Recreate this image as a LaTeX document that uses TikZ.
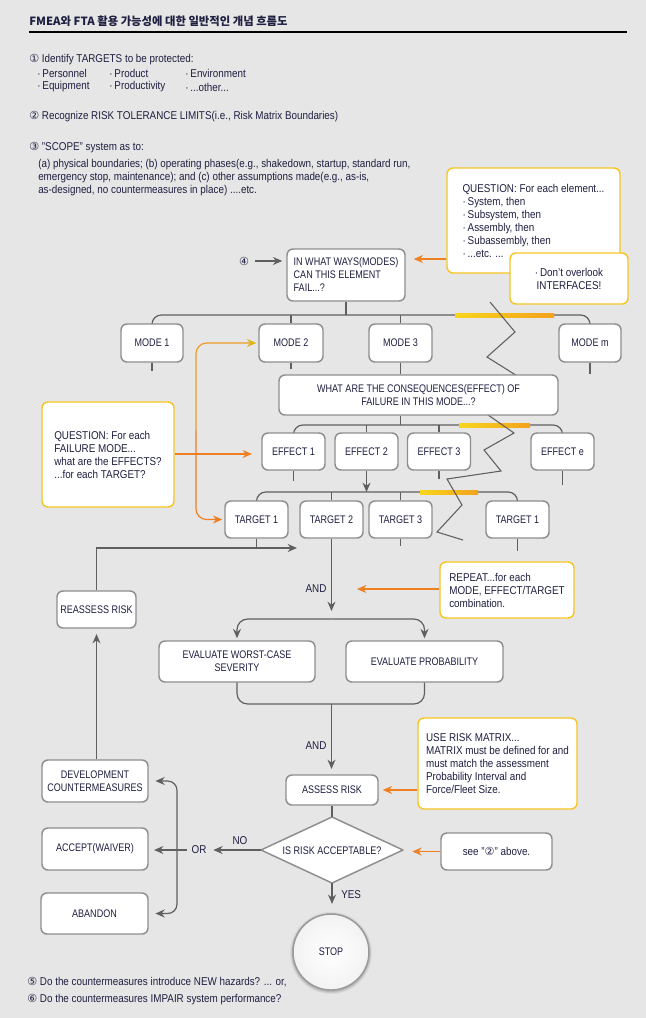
\documentclass[tikz,border=0pt]{standalone}
\usepackage{fontspec}
\setmainfont{Liberation Sans}[FakeStretch=0.87]
\newfontfamily\capsfont{Liberation Sans}[FakeStretch=0.82]
\newfontfamily\krfont{Noto Sans CJK KR}
\newfontfamily\symfont{DejaVu Sans}
\usetikzlibrary{arrows.meta,calc}
\definecolor{bgc}{HTML}{E6E6E6}
\definecolor{txt}{HTML}{1E1E40}
\definecolor{lnc}{HTML}{5F5F5F}
\definecolor{bdc}{HTML}{8E8E8E}
\definecolor{yel}{HTML}{F6C623}
\definecolor{org}{HTML}{F07F22}
\definecolor{orgy}{HTML}{EE9A2A}
\definecolor{hly}{HTML}{F8D51C}
\definecolor{hlo}{HTML}{F3A21D}
\definecolor{gold}{HTML}{DDB417}
\newcommand\cn[1]{{\symfont\fontsize{8.3}{9}\selectfont #1}}
\pgfdeclarelayer{back}
\pgfsetlayers{back,main}
\begin{document}
\begin{tikzpicture}[x=0.75pt,y=-0.75pt,
  font=\fontsize{8.5}{9.75}\selectfont, text=txt,
  sz/.style 2 args={minimum width=#1*0.75pt, minimum height=#2*0.75pt},
  box/.style={draw=bdc, line width=1.1pt, fill=white, rounded corners=4.5pt, inner sep=0pt, align=center, font=\capsfont\fontsize{8.25}{9.75}\selectfont},
  call/.style={draw=yel, line width=1.1pt, fill=white, rounded corners=4.5pt, inner sep=0pt, align=left},
  conn/.style={draw=lnc, line width=0.9pt},
  arr/.style={conn, -{Stealth[length=7pt,width=6pt]}},
  oarr/.style={draw=org, line width=0.9pt, -{Stealth[length=7pt,width=6pt]}},
  lbl/.style={inner sep=0pt, anchor=west},
  hl/.style={left color=hly, right color=hlo}
]
\begin{pgfonlayer}{back}
\fill[bgc] (0,0) rectangle (646,1018);
\end{pgfonlayer}
\useasboundingbox (0,0) rectangle (646,1018);

% ---------- header text ----------
\node[lbl, font=\krfont\bfseries\fontsize{8.5}{10}\selectfont] (title) at (29,21) {FMEA와 FTA 활용 가능성에 대한 일반적인 개념 흐름도};
\draw[line width=0.9pt, black] (29,32) -- (627,32);
\node[lbl] (s1) at (29,60) {\cn{①} Identify TARGETS to be protected:};
\node[lbl] (l11) at (37,73) {·\,Personnel};
\node[lbl] (l12) at (109,73) {·\,Product};
\node[lbl] (l13) at (185,73) {·\,Environment};
\node[lbl] (l21) at (37,87) {·\,Equipment};
\node[lbl] (l22) at (109,87) {·\,Productivity};
\node[lbl] (l23) at (185,87) {·\,...other...};
\node[lbl] (s2) at (29,117) {\cn{②} Recognize RISK TOLERANCE LIMITS(i.e., Risk Matrix Boundaries)};
\node[lbl] (s3) at (29,148) {\cn{③} "SCOPE" system as to:};
\node[lbl, align=left] (s3t) at (38,178) {(a) physical boundaries; (b) operating phases(e.g., shakedown, startup, standard run,\\emergency stop, maintenance); and (c) other assumptions made(e.g., as-is,\\as-designed, no countermeasures in place) ....etc.};
\node[lbl] (s5) at (27,982) {\cn{⑤} Do the countermeasures introduce NEW hazards? ... or,};
\node[lbl] (s6) at (27,1000) {\cn{⑥} Do the countermeasures IMPAIR system performance?};

% ---------- callouts ----------
\node[call, sz={173}{105}] (q1) at (533.5,220.5) {QUESTION: For each element...\\·\,System, then\\·\,Subsystem, then\\·\,Assembly, then\\·\,Subassembly, then\\·\,...etc. ...};
\node[call, sz={118}{51}, align=center] (intf) at (569,278.5) {·\,Don't overlook\\INTERFACES!};
\node[call, sz={132}{105}] (q2) at (108,454.5) {QUESTION: For each\\FAILURE MODE...\\what are the EFFECTS?\\...for each TARGET?};
\node[call, sz={134}{56}] (rep) at (507,590) {REPEAT...for each\\MODE, EFFECT/TARGET\\combination.};
\node[call, sz={159}{91}] (use) at (497.5,763.5) {USE RISK MATRIX...\\MATRIX must be defined for and\\must match the assessment\\Probability Interval and\\Force/Fleet Size.};
\node[box, sz={111}{37}, font=\fontsize{8.5}{9.75}\selectfont] (see) at (496.5,851.5) {see "\cn{②}" above.};

% ---------- main boxes ----------
\node[inner sep=0pt] (n4) at (244,261) {\cn{④}};
\node[box, sz={118}{52}, align=left] (fail) at (346,275) {IN WHAT WAYS(MODES)\\CAN THIS ELEMENT\\FAIL...?};
\node[box, sz={62}{38}] (m1) at (152,343) {MODE 1};
\node[box, sz={64}{38}] (m2) at (291,343) {MODE 2};
\node[box, sz={63}{38}] (m3) at (400.5,343) {MODE 3};
\node[box, sz={62}{38}] (mm) at (590,343) {MODE m};
\node[box, sz={279}{40}] (cons) at (418.5,395) {WHAT ARE THE CONSEQUENCES(EFFECT) OF\\FAILURE IN THIS MODE...?};
\node[box, sz={63}{37}] (e1) at (293.5,451.5) {EFFECT 1};
\node[box, sz={63}{37}] (e2) at (366.5,451.5) {EFFECT 2};
\node[box, sz={63}{37}] (e3) at (439,451.5) {EFFECT 3};
\node[box, sz={63}{37}] (ee) at (562.5,451.5) {EFFECT e};
\node[box, sz={63}{37}] (t1) at (256.5,519.5) {TARGET 1};
\node[box, sz={63}{37}] (t2) at (331.5,519.5) {TARGET 2};
\node[box, sz={63}{37}] (t3) at (400.5,519.5) {TARGET 3};
\node[box, sz={63}{37}] (t4) at (517.5,519.5) {TARGET 1};
\node[box, sz={79}{37}] (reassess) at (96.5,609.5) {REASSESS RISK};
\node[box, sz={156}{41}] (sev) at (237,661.5) {EVALUATE WORST-CASE\\SEVERITY};
\node[box, sz={157}{41}] (prob) at (424.5,661.5) {EVALUATE PROBABILITY};
\node[box, sz={92}{30}] (assess) at (332,790) {ASSESS RISK};
% decision diamond
\coordinate (diaN) at (332,817);
\coordinate (diaS) at (332,883);
\coordinate (diaW) at (261,850);
\coordinate (diaE) at (403,850);
\filldraw[draw=bdc, fill=white, line width=1.1pt, line join=round] (diaN) -- (diaE) -- (diaS) -- (diaW) -- cycle;
\node[inner sep=0pt, font=\capsfont\fontsize{8.25}{9.75}\selectfont] (dia) at (332,851) {IS RISK ACCEPTABLE?};
\node[box, sz={106}{42}] (dev) at (95,781) {DEVELOPMENT\\COUNTERMEASURES};
\node[box, sz={106}{42}] (accept) at (95,849) {ACCEPT(WAIVER)};
\node[box, sz={107}{41}] (abandon) at (94.5,913.5) {ABANDON};
\foreach \r/\o in {41/0.05,40/0.07,39/0.09}
  \fill[black, opacity=\o] (331,953) circle[radius=\r*0.75pt];
\node[circle, draw=bdc!90, line width=1.1pt, inner color=white, outer color=gray!10, minimum size=76*0.75pt, inner sep=0pt, font=\capsfont\fontsize{8.25}{9.75}\selectfont] (stop) at (331,952) {STOP};

% labels
\node[inner sep=0pt] (and1) at (316,589) {AND};
\node[inner sep=0pt] (and2) at (316,746) {AND};
\node[inner sep=0pt] (or) at (199,850) {OR};
\node[inner sep=0pt] (no) at (240,841) {NO};
\node[lbl] (yes) at (341,895) {YES};

% helper coordinates
\coordinate (mb) at (346,315);
\coordinate (eb) at (400.5,425);
\coordinate (tb) at (331.5,492);
\coordinate (split) at (331.5,619);
\coordinate (merge) at (331.5,704);
\coordinate (fb) at (297,548);
\coordinate (rt) at (357,589);
\coordinate (y259) at (0,259);
\coordinate (y454) at (0,454);
\coordinate (brk) at (177,850);
\coordinate (lx) at (196,430);

% ---------- buses, highlights, zigzags (behind boxes) ----------
\begin{pgfonlayer}{back}
\draw[conn, rounded corners=7pt] (m1.north) |- (mb) -| (mm.north);
\draw[conn, rounded corners=7pt] (e1.north) |- (eb) -| (ee.north);
\draw[conn, rounded corners=7pt] (t1.north) |- (tb) -| (t4.north);
\shade[hl] (455,313.3) rectangle (554,317);
\shade[hl] (459,423.3) rectangle (530,427);
\shade[hl] (420,490.3) rectangle (478,494);
\draw[conn, line width=0.8pt] (490,302) -- (515,332) -- (487,357) -- (530,384);
\draw[conn, line width=0.8pt] (478,408) -- (514,433) -- (484,450) -- (501,471) -- (447,479) -- (462,505) -- (437,532) -- (463,540);
\end{pgfonlayer}

% ---------- connectors ----------
\draw[arr, shorten <=4pt, shorten >=3pt] (n4) -- (n4 -| fail.west);
\draw[conn] (fail.south) -- (mb);
\draw[conn] (m2.north) -- (m2.north |- mb);
\draw[conn] (m3.north) -- (m3.north |- mb);
\draw[conn] (m1.south) -- ++(0,8);
\draw[conn] (m2.south) -- ++(0,6);
\draw[conn] (mm.south) -- ++(0,11);
\draw[conn] (m3.south) -- (m3.south |- cons.north);
\draw[conn] (eb |- cons.south) -- (eb);
\draw[conn] (e2.north) -- (e2.north |- eb);
\draw[conn] (e3.north) -- (e3.north |- eb);
\draw[conn] (e1.south) -- ++(0,10);
\draw[conn] (e3.south) -- ++(0,8);
\draw[conn] (ee.south) -- ++(0,14);
\draw[arr] (e2.south) -- (e2.south |- tb);
\draw[conn] (t2.north) -- (t2.north |- tb);
\draw[conn] (t3.north) -- (t3.north |- tb);
\draw[conn] (t1.south) -- ++(0,10);
\draw[conn] (t3.south) -- ++(0,7);
\draw[conn] (t4.south) -- ++(0,12);
\draw[arr, shorten >=6pt] (t2.south) -- (split);
\draw[arr, rounded corners=8pt, shorten >=1.5pt] (split) -| (sev.north);
\draw[arr, rounded corners=8pt, shorten >=1.5pt] (split) -| (prob.north);
\draw[conn, rounded corners=8pt] (sev.south) |- (merge) -| (prob.south);
\draw[arr, shorten >=4pt] (merge) -- (merge |- assess.north);
\draw[conn] (assess.south) -- (diaN);
\draw[arr, shorten >=5pt] (diaW) -- (or.east);
\draw[arr, shorten <=3pt, shorten >=4pt] (or.west) -- (or.west -| accept.east);
\draw[arr, rounded corners=7pt, shorten >=5pt] (brk) |- (dev.east);
\draw[arr, rounded corners=7pt, shorten >=5pt] (brk) |- (abandon.east);
\draw[arr, shorten >=7pt] (diaS) -- (diaS |- stop.north);
\draw[arr, shorten >=4pt] (dev.north -| reassess.south) -- (reassess.south);
\draw[arr] (reassess.north) |- (fb);

% orange arrows
\draw[oarr, shorten >=6pt] (q1.west |- y259) -- (fail.east |- y259);
\draw[oarr, shorten >=7pt] (q2.east |- y454) -- (e1.west |- y454);
\draw[oarr] (rep.west |- rt) -- (rt);
\draw[oarr, shorten >=3pt] (use.west |- assess.east) -- (assess.east);
\draw[oarr, shorten >=7pt] (see.west) -- (see.west -| diaE);
\draw[oarr, rounded corners=8pt, shorten >=1.5pt] (lx) |- (t1.west);
\draw[draw=orgy, line width=0.9pt, rounded corners=8pt, shorten >=1.5pt, -{Stealth[length=7pt,width=6pt,color=gold]}] (lx) |- (m2.west);
\end{tikzpicture}
\end{document}
